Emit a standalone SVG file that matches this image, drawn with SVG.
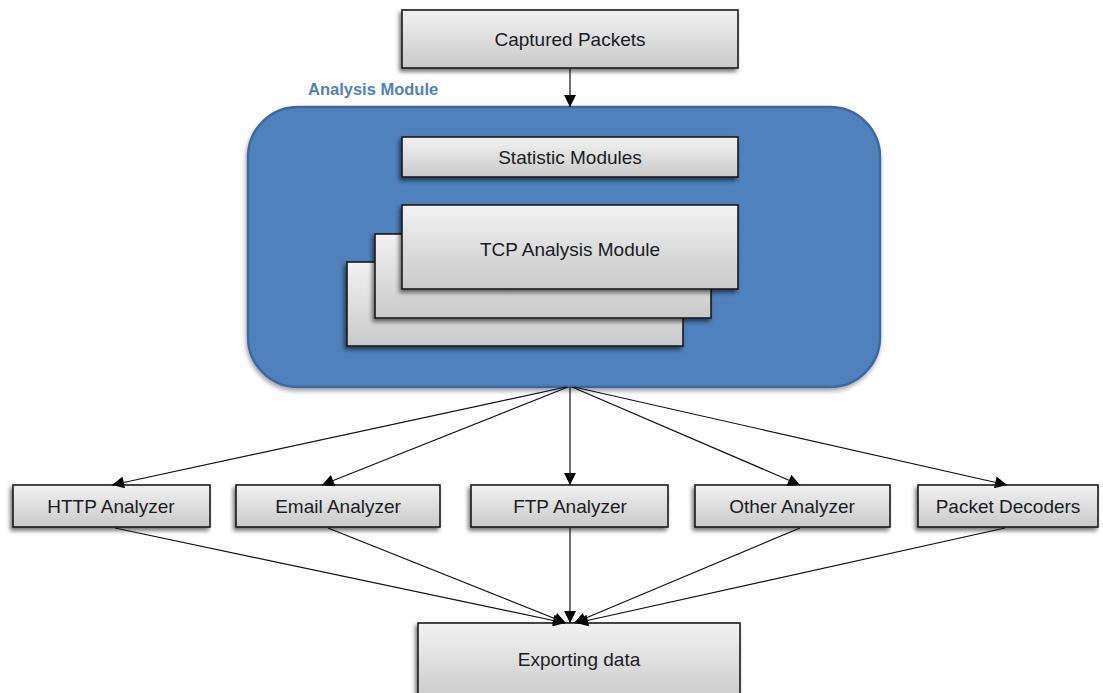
<svg xmlns="http://www.w3.org/2000/svg" width="1103" height="693" viewBox="0 0 1103 693">
<defs>
<linearGradient id="g" x1="0" y1="0" x2="0" y2="1">
<stop offset="0" stop-color="#f2f2f2"/>
<stop offset="1" stop-color="#c9c9c9"/>
</linearGradient>
<filter id="sh" x="-10%" y="-10%" width="120%" height="130%">
<feDropShadow dx="-2" dy="3" stdDeviation="2.2" flood-color="#000" flood-opacity="0.55"/>
</filter>
<filter id="sh2" x="-10%" y="-10%" width="120%" height="130%">
<feDropShadow dx="-1" dy="3" stdDeviation="2" flood-color="#000" flood-opacity="0.35"/>
</filter>
<marker id="ah" viewBox="0 0 10 10" refX="10" refY="5" markerWidth="13" markerHeight="12" markerUnits="userSpaceOnUse" orient="auto">
<path d="M0,0 L10,5 L0,10 z" fill="#000"/>
</marker>
</defs>
<style>
.box{fill:url(#g);stroke:#1a1a1a;stroke-width:1.6;filter:url(#sh)}
.t{font-family:"Liberation Sans",Arial,sans-serif;font-size:19px;fill:#1c1c24;text-anchor:middle}
.c{stroke:#111;stroke-width:1.2;fill:none;marker-end:url(#ah)}
</style>
<rect width="1103" height="693" fill="#fff"/>

<g id="analysis-module">
<rect x="248" y="107" width="632" height="280" rx="50" ry="50" fill="#4f81bd" stroke="#3d6a9e" stroke-width="2.5" filter="url(#sh2)"/>
<text x="308" y="95" font-family="'Liberation Sans',Arial,sans-serif" font-size="16.5" font-weight="bold" fill="#4f81bd">Analysis Module</text>
</g>

<g id="captured-packets">
<rect class="box" x="402" y="10" width="336" height="58"/>
<text class="t" x="570" y="46">Captured Packets</text>
</g>

<g id="statistic-modules">
<rect class="box" x="402" y="137" width="336" height="40"/>
<text class="t" x="570" y="164">Statistic Modules</text>
</g>

<g id="tcp-analysis-module">
<rect class="box" x="347" y="262" width="336" height="84"/>
<rect class="box" x="375" y="234" width="336" height="84"/>
<rect class="box" x="402" y="205" width="336" height="84"/>
<text class="t" x="570" y="256">TCP Analysis Module</text>
</g>

<g id="http-analyzer">
<rect class="box" x="13" y="485" width="197" height="42"/>
<text class="t" x="111" y="513">HTTP Analyzer</text>
</g>
<g id="email-analyzer">
<rect class="box" x="236" y="485" width="204" height="42"/>
<text class="t" x="338" y="513">Email Analyzer</text>
</g>
<g id="ftp-analyzer">
<rect class="box" x="471" y="485" width="197" height="42"/>
<text class="t" x="570" y="513">FTP Analyzer</text>
</g>
<g id="other-analyzer">
<rect class="box" x="695" y="485" width="195" height="42"/>
<text class="t" x="792" y="513">Other Analyzer</text>
</g>
<g id="packet-decoders">
<rect class="box" x="918" y="485" width="180" height="42"/>
<text class="t" x="1008" y="513">Packet Decoders</text>
</g>

<g id="exporting-data">
<rect class="box" x="418" y="623" width="322" height="80"/>
<text class="t" x="579" y="666">Exporting data</text>
</g>

<g id="connectors">
<line class="c" x1="570" y1="68" x2="570" y2="107"/>
<line class="c" x1="566" y1="387" x2="112" y2="485"/>
<line class="c" x1="568" y1="387" x2="322" y2="485"/>
<line class="c" x1="570" y1="387" x2="570" y2="485"/>
<line class="c" x1="572" y1="387" x2="800" y2="485"/>
<line class="c" x1="574" y1="387" x2="1007" y2="485"/>
<line class="c" x1="115" y1="528" x2="565" y2="623"/>
<line class="c" x1="328" y1="528" x2="566" y2="623"/>
<line class="c" x1="570" y1="528" x2="570" y2="623"/>
<line class="c" x1="800" y1="528" x2="574" y2="623"/>
<line class="c" x1="1005" y1="528" x2="576" y2="623"/>
</g>
</svg>
